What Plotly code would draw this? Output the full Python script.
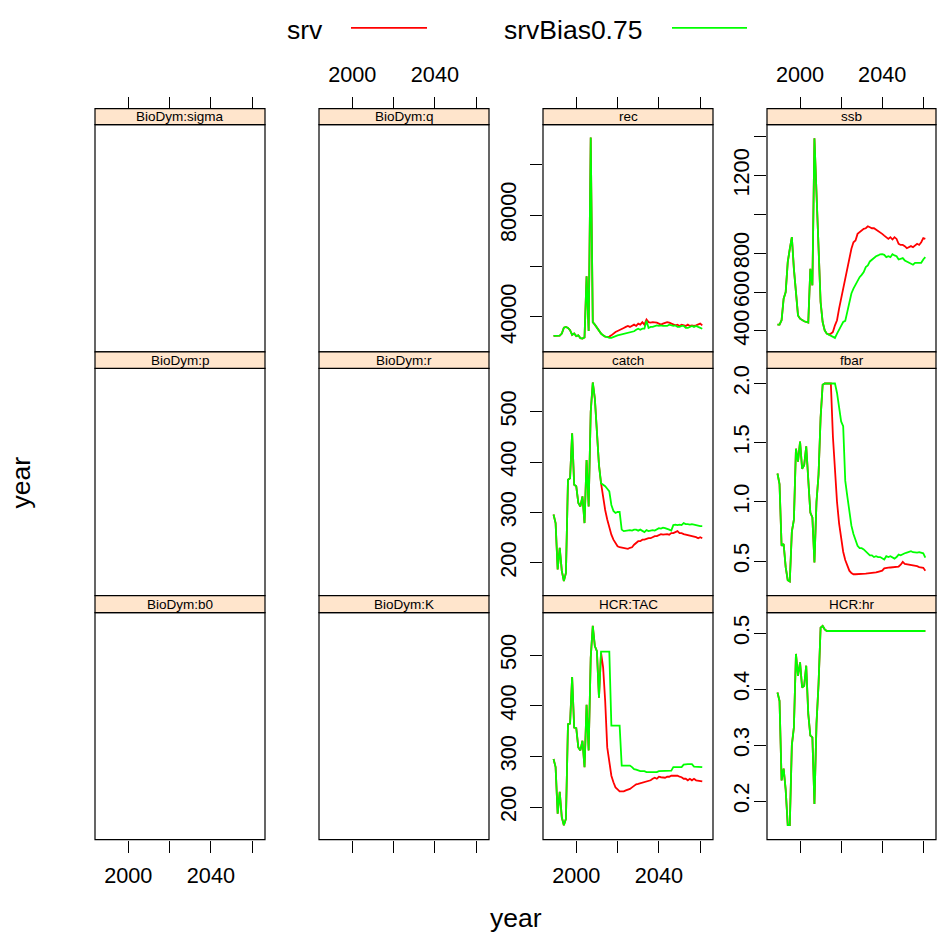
import plotly.graph_objects as go

W, H = 937, 939

years = list(range(1989, 2062))

# ---------------- data ----------------
rec_hist = [32560, 32560, 32560, 32700, 33500, 35800, 36100, 35700, 34800, 33000,
            33500, 32500, 32800, 31700, 31500, 32000, 56000, 34500, 110500, 38000,
            37000, 35700, 34400, 33500, 32800, 32300, 32200]
rec_srv_proj = [32300, 32800, 33500, 34100, 34500, 34800, 35400, 35700, 36100, 36500,
                36100, 36700, 37000, 36500, 37400, 37000, 38000, 37000, 39000, 38000,
                37800, 38000, 38000, 37800, 37400, 37000, 37400, 37800, 38000, 37800,
                37400, 37000, 36700, 37000, 36500, 37000, 36700, 36500, 37000, 36500,
                36700, 36500, 36700, 37000, 37400, 36700]
rec_bias_proj = [31800, 31800, 32200, 32500, 32800, 33000, 33200, 33500, 33900, 34100,
                 34100, 34400, 34400, 35000, 35400, 35000, 35400, 35400, 38500, 35700,
                 36100, 36100, 36500, 36700, 36500, 36700, 36500, 36500, 36500, 37000,
                 36700, 36500, 36700, 36100, 36100, 36500, 36500, 35700, 35700, 36100,
                 36500, 36100, 36500, 36100, 35900, 35400]

ssb_hist = [432, 432, 455, 566, 600, 754, 823, 883, 720, 583,
            480, 463, 455, 450, 446, 443, 720, 635, 1393, 1095,
            797, 549, 446, 403, 386, 381]
ssb_srv_proj = [386, 395, 429, 455, 515, 566, 626, 660, 712, 780,
                823, 857, 866, 900, 908, 917, 926, 929, 939, 934,
                929, 929, 922, 917, 908, 900, 891, 883, 874, 883,
                871, 883, 874, 849, 843, 843, 837, 826, 830, 837,
                831, 840, 849, 843, 857, 878, 874]
ssb_bias_proj = [377, 369, 364, 386, 403, 426, 446, 452, 498, 552,
                 593, 618, 640, 662, 677, 689, 703, 729, 737, 758,
                 768, 780, 785, 789, 795, 796, 792, 780, 785, 780,
                 795, 789, 785, 768, 772, 775, 763, 758, 754, 746,
                 741, 751, 751, 754, 751, 768, 780]

catch_hist = [296, 279, 187, 230, 184, 164, 180, 365, 368, 457,
              355, 352, 319, 312, 332, 279, 404, 312, 500, 558,
              526, 467, 394]
catch_srv_proj = [358, 328, 305, 286, 269, 256, 246, 238, 233, 231,
                  230, 230, 228, 228, 230, 231, 236, 240, 243, 243,
                  246, 246, 248, 249, 249, 251, 253, 253, 255, 257,
                  256, 257, 257, 256, 259, 259, 261, 263, 259, 259,
                  257, 256, 256, 255, 253, 253, 251, 249, 251, 249]
catch_bias_proj = [358, 355, 352, 347, 342, 315, 303, 299, 301, 301,
                   266, 263, 264, 264, 265, 264, 266, 266, 264, 266,
                   263, 261, 265, 263, 264, 265, 264, 266, 269, 268,
                   270, 269, 268, 266, 264, 275, 276, 275, 276, 275,
                   279, 277, 277, 276, 277, 276, 275, 273, 273, 273]

fbar_hist = [1.24, 1.15, 0.63, 0.645, 0.45, 0.34, 0.33, 0.75, 0.85, 1.45,
             1.34, 1.51, 1.28, 1.31, 1.47, 1.15, 0.91, 0.87, 0.49, 1.0,
             1.23, 1.71, 1.99, 2.0, 2.0, 2.0]
fbar_srv_proj = [2.0, 1.55, 1.25, 1.0, 0.82, 0.68, 0.58, 0.51, 0.46, 0.42,
                 0.40, 0.39, 0.39, 0.39, 0.392, 0.392, 0.394, 0.395, 0.397, 0.398,
                 0.40, 0.40, 0.405, 0.41, 0.415, 0.42, 0.44, 0.445, 0.445, 0.447,
                 0.45, 0.45, 0.452, 0.455, 0.47, 0.494, 0.478, 0.475, 0.468, 0.466,
                 0.462, 0.46, 0.458, 0.45, 0.448, 0.444, 0.42]
fbar_bias_proj = [2.0, 2.0, 2.0, 1.92, 1.80, 1.68, 1.64, 1.18, 1.05, 0.90,
                  0.80, 0.73, 0.67, 0.63, 0.61, 0.61, 0.60, 0.585, 0.57, 0.55,
                  0.55, 0.535, 0.542, 0.535, 0.535, 0.522, 0.514, 0.542, 0.535, 0.542,
                  0.528, 0.522, 0.535, 0.556, 0.55, 0.562, 0.567, 0.573, 0.578, 0.584,
                  0.576, 0.573, 0.573, 0.576, 0.57, 0.567, 0.53]

tac_hist = [295, 279, 187, 230, 180, 164, 177, 364, 365, 457,
            357, 356, 318, 312, 331, 279, 402, 312, 495, 558,
            518, 508, 416]
tac_srv_proj = [505, 476, 410, 318, 285, 262, 249, 239, 235, 231,
                231, 231, 233, 234, 236, 239, 243, 245, 246, 247,
                249, 249, 251, 252, 253, 256, 258, 256, 260, 259,
                259, 258, 260, 260, 262, 262, 262, 262, 260, 259,
                256, 256, 253, 256, 253, 256, 253, 252, 252, 251]
tac_bias_proj = [507, 507, 507, 507, 507, 361, 361, 361, 361, 361,
                 282, 282, 282, 282, 282, 279, 275, 274, 272, 271,
                 271, 271, 269, 269, 269, 269, 269, 269, 271, 271,
                 272, 272, 272, 272, 272, 279, 279, 279, 279, 279,
                 284, 285, 285, 285, 285, 280, 280, 280, 279, 279]

hr_srv = [0.394, 0.379, 0.237, 0.258, 0.22, 0.157, 0.157, 0.30, 0.332, 0.463,
          0.424, 0.448, 0.403, 0.406, 0.442, 0.356, 0.317, 0.314, 0.195, 0.338,
          0.409, 0.51, 0.513, 0.507, 0.504, 0.504, 0.504, 0.504, 0.504, 0.504,
          0.504, 0.504, 0.504, 0.504, 0.504, 0.504, 0.504, 0.504, 0.504, 0.504,
          0.504, 0.504, 0.504, 0.504, 0.504, 0.504, 0.504, 0.504, 0.504, 0.504,
          0.504, 0.504, 0.504, 0.504, 0.504, 0.504, 0.504, 0.504, 0.504, 0.504,
          0.504, 0.504, 0.504, 0.504, 0.504, 0.504, 0.504, 0.504, 0.504, 0.504,
          0.504, 0.504, 0.504]
hr_bias = [0.394, 0.379, 0.237, 0.258, 0.22, 0.157, 0.157, 0.30, 0.332, 0.463,
           0.424, 0.448, 0.403, 0.406, 0.442, 0.356, 0.317, 0.314, 0.195, 0.338,
           0.409, 0.51, 0.513, 0.507, 0.504, 0.504, 0.504, 0.504, 0.504, 0.504,
           0.504, 0.504, 0.504, 0.504, 0.504, 0.504, 0.504, 0.504, 0.504, 0.504,
           0.504, 0.504, 0.504, 0.504, 0.504, 0.504, 0.504, 0.504, 0.504, 0.504,
           0.504, 0.504, 0.504, 0.504, 0.504, 0.504, 0.504, 0.504, 0.504, 0.504,
           0.504, 0.504, 0.504, 0.504, 0.504, 0.504, 0.504, 0.504, 0.504, 0.504,
           0.504, 0.504, 0.504]

series_names = ["srv", "srvBias0.75"]
series_colors = ["#FF0000", "#00FF00"]

x_tickvals = [2000, 2020, 2040, 2060]
x_ticktext = ["2000", "", "2040", ""]

# panel grid (top row first)
panel_grid = [
    ["BioDym:sigma", "BioDym:q", "rec", "ssb"],
    ["BioDym:p", "BioDym:r", "catch", "fbar"],
    ["BioDym:b0", "BioDym:K", "HCR:TAC", "HCR:hr"],
]

panel_data = {
    "rec": (rec_hist + rec_srv_proj, rec_hist + rec_bias_proj),
    "ssb": (ssb_hist + ssb_srv_proj, ssb_hist + ssb_bias_proj),
    "catch": (catch_hist + catch_srv_proj, catch_hist + catch_bias_proj),
    "fbar": (fbar_hist + fbar_srv_proj, fbar_hist + fbar_bias_proj),
    "HCR:TAC": (tac_hist + tac_srv_proj, tac_hist + tac_bias_proj),
    "HCR:hr": (hr_srv, hr_bias),
}
panel_yaxis = {
    "rec": ([26300, 115540], [40000, 60000, 80000, 100000], ["40000", "", "80000", ""]),
    "ssb": ([292, 1463], [400, 600, 800, 1000, 1200, 1400], ["400", "600", "800", "", "1200", ""]),
    "catch": ([135.1, 586], [200, 300, 400, 500], ["200", "300", "400", "500"]),
    "fbar": ([0.2097, 2.128], [0.5, 1.0, 1.5, 2.0], ["0.5", "1.0", "1.5", "2.0"]),
    "HCR:TAC": ([135.8, 584.3], [200, 300, 400, 500], ["200", "300", "400", "500"]),
    "HCR:hr": ([0.1312, 0.537], [0.2, 0.3, 0.4, 0.5], ["0.2", "0.3", "0.4", "0.5"]),
}
x_range = [1983.9, 2066.2]

# ---------------- geometry (pixels) ----------------
col_px = [(95, 265), (319, 489), (543, 713), (767, 936)]
row_px = [(122, 350), (366.5, 594.5), (611.5, 839.3)]
strip_px = [(106, 122), (350, 366.5), (594.5, 611.5)]
label_ticklen = {2: 12, 3: 8}      # where the y tick labels sit
label_standoff = {2: 5, 3: 0}

FONT = "Liberation Sans, Arial, Helvetica, sans-serif"
TICKFONT = 21.7

fig = go.Figure()
layout = dict(
    width=W, height=H, margin=dict(l=0, r=0, t=0, b=0),
    paper_bgcolor="white", plot_bgcolor="white",
    font=dict(family=FONT, size=TICKFONT, color="black"),
    showlegend=False,
)
shapes = []
annotations = []
extra_axes = []

k = 0
for r, row in enumerate(panel_grid):
    for c, name in enumerate(row):
        k += 1
        xs = "x" if k == 1 else f"x{k}"
        ys = "y" if k == 1 else f"y{k}"
        xkey = "xaxis" if k == 1 else f"xaxis{k}"
        ykey = "yaxis" if k == 1 else f"yaxis{k}"
        x0, x1 = col_px[c]
        y0, y1 = row_px[r]
        xdom = [x0 / W, x1 / W]
        ydom = [1 - y1 / H, 1 - y0 / H]

        xa = dict(domain=xdom, range=x_range, showgrid=False, zeroline=False,
                  showline=False, tickvals=x_tickvals, ticktext=x_ticktext,
                  ticklen=12, tickwidth=1, tickcolor="black",
                  tickfont=dict(size=TICKFONT, family=FONT))
        if r == 0:
            xa.update(anchor="free", position=1 - strip_px[0][0] / H, side="top",
                      ticks="outside", showticklabels=(c in (1, 3)),
                      ticklabelstandoff=6)
        elif r == 2:
            xa.update(anchor=ys, side="bottom", ticks="outside",
                      showticklabels=(c in (0, 2)), ticklabelstandoff=4)
        else:
            xa.update(anchor=ys, ticks="", showticklabels=False)
        layout[xkey] = xa

        if name in panel_yaxis:
            yr, tv, tt = panel_yaxis[name]
            ya = dict(domain=ydom, range=yr, anchor=xs, side="left",
                      showgrid=False, zeroline=False, showline=False,
                      tickvals=tv, ticktext=tt, ticks="outside", ticklen=12,
                      tickwidth=1, tickcolor="black", tickangle=-90,
                      showticklabels=(label_ticklen[c] == 12),
                      ticklabelstandoff=label_standoff[c],
                      tickfont=dict(size=TICKFONT, family=FONT))
            if label_ticklen[c] != 12:
                extra_axes.append((xs, ys, yr, tv, tt, label_ticklen[c], label_standoff[c]))
        else:
            ya = dict(domain=ydom, range=[0, 1], anchor=xs, showgrid=False,
                      zeroline=False, showline=False, ticks="",
                      showticklabels=False)
        layout[ykey] = ya

        if name in panel_data:
            for vals, sname, col in zip(panel_data[name], series_names, series_colors):
                fig.add_trace(go.Scatter(x=years, y=vals, mode="lines", name=sname,
                                         line=dict(color=col, width=1.8),
                                         xaxis=xs, yaxis=ys, showlegend=False,
                                         hoverinfo="skip"))
        else:
            fig.add_trace(go.Scatter(x=[], y=[], mode="lines", xaxis=xs, yaxis=ys,
                                     showlegend=False, hoverinfo="skip"))

        # panel frame
        shapes.append(dict(type="rect", xref=f"{xs} domain", yref=f"{ys} domain",
                           x0=0, x1=1, y0=0, y1=1, line=dict(color="black", width=1.2),
                           fillcolor="rgba(0,0,0,0)", layer="above"))
        # strip
        s0, s1 = strip_px[r]
        shapes.append(dict(type="rect", xref="paper", yref="paper",
                           x0=x0 / W, x1=x1 / W, y0=1 - s1 / H, y1=1 - s0 / H,
                           line=dict(color="black", width=1.2), fillcolor="#FFE5CC",
                           layer="above"))
        annotations.append(dict(text=name, xref="paper", yref="paper",
                                x=(x0 + x1) / 2 / W, y=1 - (s0 + s1) / 2 / H,
                                xanchor="center", yanchor="middle", showarrow=False,
                                font=dict(size=13.5, family=FONT, color="black")))

# overlay y axes carrying only the labels for the right-hand column
n = k
for xs, ys, yr, tv, tt, tl, so in extra_axes:
    n += 1
    yk = f"yaxis{n}"
    layout[yk] = dict(range=yr, anchor=xs, overlaying=ys, side="left",
                      showgrid=False, zeroline=False, showline=False,
                      tickvals=tv, ticktext=tt, ticks="outside", ticklen=tl,
                      tickcolor="rgba(0,0,0,0)", tickangle=-90,
                      ticklabelstandoff=so,
                      tickfont=dict(size=TICKFONT, family=FONT))
    fig.add_trace(go.Scatter(x=[], y=[], mode="lines", xaxis=xs, yaxis=f"y{n}",
                             showlegend=False, hoverinfo="skip"))

# legend (key above panels)
legend_items = [
    (285, 351, 427),
    (502, 672, 747),
]
for (tx, lx0, lx1), sname, col in zip(legend_items, series_names, series_colors):
    annotations.append(dict(text=sname, xref="paper", yref="paper", x=tx / W,
                            y=1 - 27 / H, xanchor="left", yanchor="middle",
                            showarrow=False, font=dict(size=26.5, family=FONT)))
    shapes.append(dict(type="line", xref="paper", yref="paper", x0=lx0 / W, x1=lx1 / W,
                       y0=1 - 25 / H, y1=1 - 25 / H, line=dict(color=col, width=1.8)))

# axis titles
annotations.append(dict(text="year", xref="paper", yref="paper", x=516 / W, y=1 - 918 / H,
                        xanchor="center", yanchor="middle", showarrow=False,
                        font=dict(size=26.5, family=FONT)))
annotations.append(dict(text="year", xref="paper", yref="paper", x=21 / W, y=1 - 481 / H,
                        xanchor="center", yanchor="middle", showarrow=False, textangle=-90,
                        font=dict(size=26.5, family=FONT)))

layout["shapes"] = shapes
layout["annotations"] = annotations
fig.update_layout(**layout)
fig.write_html("out.html")
